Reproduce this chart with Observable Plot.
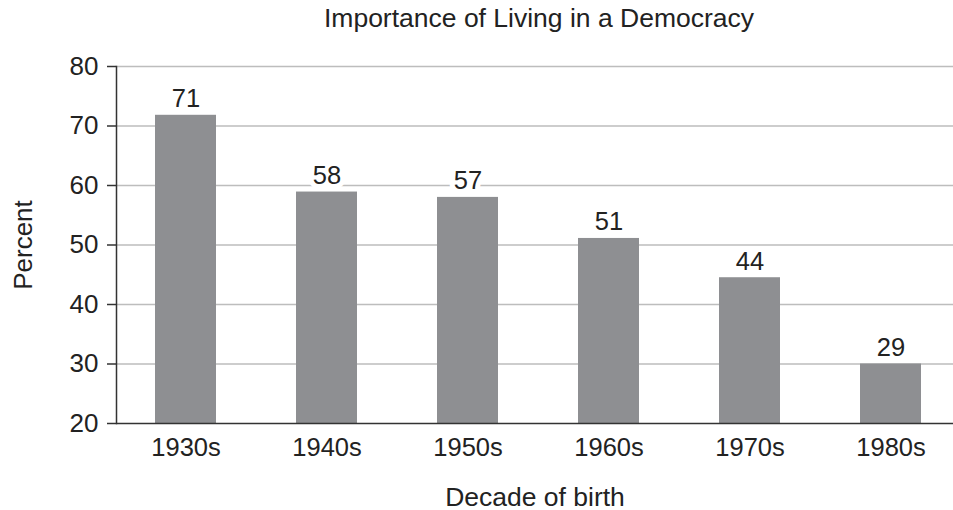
<!DOCTYPE html>
<html>
<head>
<meta charset="utf-8">
<script src="https://cdn.jsdelivr.net/npm/d3@7"></script>
<script src="https://cdn.jsdelivr.net/npm/@observablehq/plot@0.6"></script>
<style>
  html, body { margin: 0; padding: 0; background: #fff; }
  #wrap { position: relative; width: 953px; height: 510px; font-family: "Liberation Sans", Arial, Helvetica, sans-serif; }
  #title { position: absolute; top: 4px; left: 116px; width: 846px; text-align: center; font-size: 26.5px; line-height: 28px; color: #222; }
</style>
</head>
<body>
<div id="wrap">
  <div id="title">Importance of Living in a Democracy</div>
  <div id="chart"></div>
</div>
<script>
const decades = ["1930s", "1940s", "1950s", "1960s", "1970s", "1980s"];
const barValues = [71.8, 58.9, 58.0, 51.1, 44.5, 30.0];
const barLabels = ["71", "58", "57", "51", "44", "29"];
const yTicks = [20, 30, 40, 50, 60, 70, 80];

const data = decades.map((d, i) => ({decade: d, value: barValues[i], label: barLabels[i]}));
const font = '"Liberation Sans", Arial, Helvetica, sans-serif';

const chart = Plot.plot({
  width: 953,
  height: 510,
  marginTop: 66,
  marginBottom: 87,
  marginLeft: 116,
  marginRight: 0,
  style: {fontFamily: font, fontSize: "25px", color: "#222", background: "#fff"},
  x: {domain: decades, paddingInner: 0.564, paddingOuter: 0.25, align: 0.553, label: null},
  y: {domain: [20, 80], ticks: yTicks, label: null},
  marks: [
    Plot.gridY(yTicks.filter(t => t > 20), {stroke: "#bdbdbd", strokeOpacity: 1, strokeWidth: 1.5}),
    Plot.text(data, {x: "decade", y: "value", text: "label", lineAnchor: "bottom", dy: -8, fontSize: 25.5, fill: "white", stroke: "white", strokeWidth: 10}),
    Plot.barY(data, {x: "decade", y1: 20, y2: "value", fill: "#8e8f92"}),
    Plot.text(data, {x: "decade", y: "value", text: "label", lineAnchor: "bottom", dy: -8, fontSize: 25.5, fill: "#222"}),
    Plot.axisY(yTicks, {tickSize: 9, tickPadding: 9, stroke: "#333", strokeWidth: 1.5, fontSize: 26, fill: "#222", label: "Percent", labelAnchor: "center", labelArrow: "none", labelOffset: 103}),
    Plot.axisX({tickSize: 0, tickPadding: 14, fontSize: 25.5, fill: "#222", label: null}),
    Plot.text(["Decade of birth"], {frameAnchor: "bottom", dy: 82, fontSize: 26.5, fill: "#222"}),
    Plot.ruleY([20], {stroke: "#333", strokeWidth: 1.5}),
    Plot.frame({anchor: "left", stroke: "#333", strokeWidth: 1.5})
  ]
});
document.getElementById("chart").appendChild(chart);
</script>
</body>
</html>
